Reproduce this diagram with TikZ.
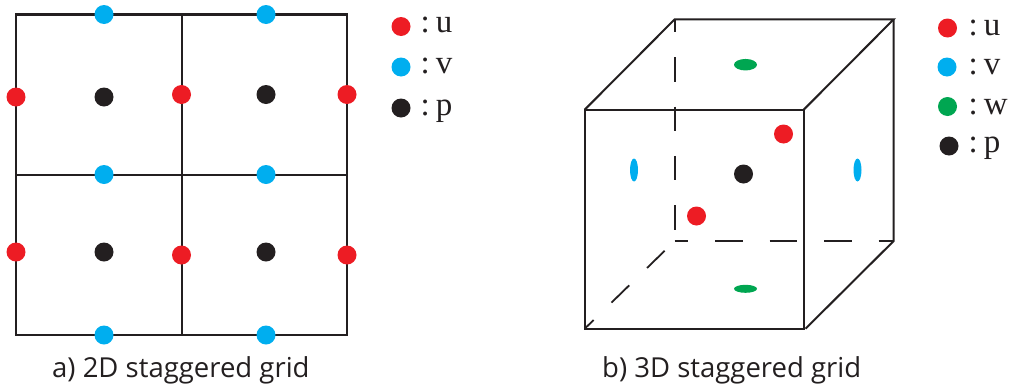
\documentclass[tikz,border=0pt]{standalone}
\usepackage{fontspec}
\setmainfont{Liberation Serif}
\newfontfamily\capfont{Open Sans}
\usetikzlibrary{shapes.geometric}
\definecolor{ured}{HTML}{ED1C24}
\definecolor{vblue}{HTML}{00AEEF}
\definecolor{wgreen}{HTML}{00A651}
\definecolor{pblack}{HTML}{231F20}
\tikzset{
  x=1pt,y=-1pt,
  gridline/.style={draw=pblack,line width=2.3pt,line cap=rect},
  innerline/.style={draw=pblack,line width=2pt},
  dashv/.style={draw=pblack,line width=1.8pt,dash pattern=on 24.3pt off 25pt,dash phase=11.3pt},
  dashh/.style={draw=pblack,line width=1.8pt,dash pattern=on 27.3pt off 27.2pt,dash phase=14pt},
  dashd/.style={draw=pblack,line width=1.8pt,dash pattern=on 24.6pt off 25pt,dash phase=35.6pt},
  dot/.style={circle,inner sep=0pt,minimum size=19pt,draw=none},
  udot/.style={dot,fill=ured},
  vdot/.style={dot,fill=vblue},
  wdot/.style={dot,fill=wgreen},
  pdot/.style={dot,fill=pblack},
  flat/.style={ellipse,inner sep=0pt,draw=none,fill=#1},
  legend/.style={anchor=base west,inner sep=0pt,text=pblack,font=\fontsize{33}{33}\selectfont},
  caption/.style={anchor=base west,inner sep=0pt,text=pblack,font=\capfont\fontsize{27.5}{27.5}\selectfont},
}
\begin{document}
\begin{tikzpicture}
\useasboundingbox (0,0) rectangle (1009,386);
% 2D grid
\coordinate (tl) at (15.7,14.5);
\coordinate (tm) at (181.5,14.5);
\coordinate (tr) at (347,14.5);
\coordinate (ml) at (15.7,174.5);
\coordinate (mr) at (347,174.5);
\coordinate (bl) at (15.7,335);
\coordinate (bm) at (181.5,335);
\coordinate (br) at (347,335);
\draw[gridline] (tl) -- (tr) -- (br) -- (bl) -- cycle;
\draw[innerline] (tm) -- (bm);
\draw[innerline] (ml) -- (mr);
\node[vdot] (v1) at (104,14.5) {};
\node[vdot] (v2) at (266,14.5) {};
\node[vdot] (v3) at (104,174.5) {};
\node[vdot] (v4) at (266,174.5) {};
\node[vdot] (v5) at (104,335) {};
\node[vdot] (v6) at (266,335) {};
\node[udot] (u1) at (16,97) {};
\node[udot] (u2) at (181.5,94.5) {};
\node[udot] (u3) at (347,94.5) {};
\node[udot] (u4) at (16,252) {};
\node[udot] (u5) at (181.5,255) {};
\node[udot] (u6) at (347,255) {};
\node[pdot] (p1) at (104,97) {};
\node[pdot] (p2) at (266,94.5) {};
\node[pdot] (p3) at (104,252) {};
\node[pdot] (p4) at (266,252) {};
\node[udot] (lu) at (401,26.5) {};
\node[vdot] (lv) at (401,67) {};
\node[pdot] (lp) at (401,108) {};
\node[legend] (tu) at (420.5,32.5) {:\hspace{6pt}u};
\node[legend] (tv) at (420.5,73) {:\hspace{6pt}v};
\node[legend] (tp) at (420.5,115) {:\hspace{6pt}p};
\node[caption] (capa) at (52,377.7) {a) 2D staggered grid};
% 3D cube
\coordinate (ftl) at (584.7,109.7);
\coordinate (ftr) at (803.7,109.7);
\coordinate (fbl) at (584.7,328.7);
\coordinate (fbr) at (803.7,328.7);
\coordinate (fbrx) at (805.5,328.7);
\coordinate (btl) at (674.7,19.3);
\coordinate (btr) at (893.7,19.3);
\coordinate (bbl) at (674.7,241);
\coordinate (bbr) at (893.7,241);
\draw[dashv] (btl) -- (bbl);
\draw[dashh] (bbl) -- (bbr);
\draw[dashd] (bbl) -- (fbl);
\draw[gridline] (ftl) -- (ftr) -- (fbr) -- (fbl) -- cycle;
\draw[innerline] (ftl) -- (btl) -- (btr) -- (ftr);
\draw[innerline] (btr) -- (bbr) -- (fbrx);
\node[flat=wgreen,minimum width=23pt,minimum height=11.5pt] (w1) at (745.5,64.7) {};
\node[flat=wgreen,minimum width=23pt,minimum height=8pt] (w2) at (745.5,288.8) {};
\node[flat=vblue,minimum width=8pt,minimum height=23pt] (v7) at (634,170) {};
\node[flat=vblue,minimum width=8pt,minimum height=23pt] (v8) at (857.5,170) {};
\node[udot] (u7) at (783.5,134) {};
\node[udot] (u8) at (696.5,216) {};
\node[pdot] (p5) at (743.5,174) {};
\node[udot] (lu2) at (947.5,28) {};
\node[vdot] (lv2) at (947,67) {};
\node[wdot] (lw2) at (947.5,106.5) {};
\node[pdot] (lp2) at (949,146) {};
\node[legend] (tu2) at (968.5,35) {:\hspace{6pt}u};
\node[legend] (tv2) at (968.5,74.7) {:\hspace{6pt}v};
\node[legend] (tw2) at (968.5,114.3) {:\hspace{6pt}w};
\node[legend] (tp2) at (968.5,152.7) {:\hspace{6pt}p};
\node[caption] (capb) at (602,377.7) {b) 3D staggered grid};
\end{tikzpicture}
\end{document}
